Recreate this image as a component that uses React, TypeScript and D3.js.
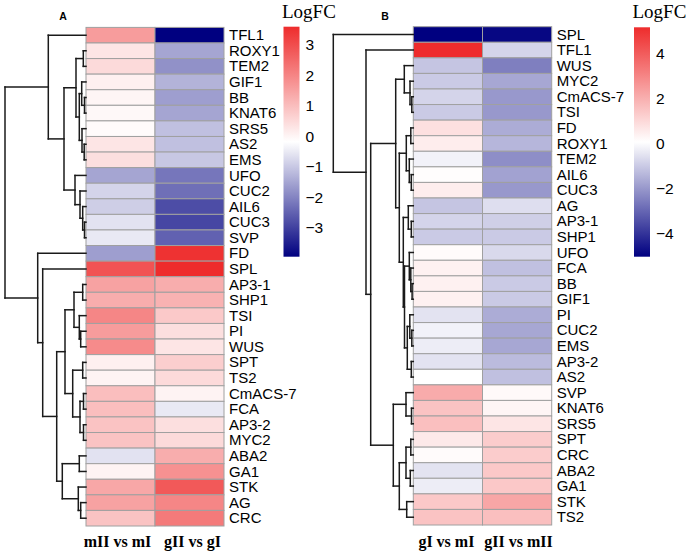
import React from "react";
import * as d3 from "d3";

type TreeNode = string | [number, TreeNode, TreeNode];

// ---------- Panel A data ----------
const rowsA = ["TFL1","ROXY1","TEM2","GIF1","BB","KNAT6","SRS5","AS2","EMS","UFO","CUC2","AIL6","CUC3","SVP","FD","SPL","AP3-1","SHP1","TSI","PI","WUS","SPT","TS2","CmACS-7","FCA","AP3-2","MYC2","ABA2","GA1","STK","AG","CRC"];
const colsA = ["mII vs mI", "gII vs gI"];
const mIIvsmI = [1.6,0.3,0.5,0.1,0.0,-0.05,-0.1,0.3,0.4,-1.5,-0.8,-0.9,-0.6,-0.5,-1.6,2.9,1.5,1.3,2.0,1.6,1.9,0.1,0.05,1.0,1.0,0.9,0.9,-0.6,0.05,1.4,1.5,0.9];
const gIIvsgI = [-3.94,-1.5,-1.8,-1.3,-1.6,-1.5,-1.1,-1.1,-1.0,-2.2,-2.3,-2.8,-2.9,-2.5,3.5,3.6,1.3,1.2,0.8,0.4,0.3,0.7,0.5,0.05,-0.5,0.4,0.5,1.3,1.8,2.8,2.0,2.2];
const ticksA = [-3,-2,-1,0,1,2,3];
const dendroA: TreeNode = [81,
  [37.7, "TFL1",
    [22,
      [10, [2.7,"ROXY1","TEM2"], [6.7, [4.3,"GIF1",[1.5,"BB","KNAT6"]], [4.0,"SRS5",[1.8,"AS2","EMS"]]]],
      [11, "UFO", [6, "CUC2", [3.3, "AIL6", [1.5, "CUC3","SVP"]]]]
    ]
  ],
  [48.3, "FD",
    [43.3, "SPL",
      [29.3,
        [21,
          [12, [3.3,"AP3-1","SHP1"], [6.7, "TSI", [5.3,"PI","WUS"]]],
          [13.3, [3.3,"SPT","TS2"], [6, [2.5,"CmACS-7","FCA"], [2.5,"AP3-2","MYC2"]]]
        ],
        [23.7, [6.7,"ABA2","GA1"], [7.7,"STK",[5.3,"AG","CRC"]]]
      ]
    ]
  ]
];

// ---------- Panel B data ----------
const rowsB = ["SPL","TFL1","WUS","MYC2","CmACS-7","TSI","FD","ROXY1","TEM2","AIL6","CUC3","AG","AP3-1","SHP1","UFO","FCA","BB","GIF1","PI","CUC2","EMS","AP3-2","AS2","SVP","KNAT6","SRS5","SPT","CRC","ABA2","GA1","STK","TS2"];
const colsB = ["gI vs mI", "gII vs mII"];
const gIvsmI = [-5.04,5.16,-1.1,-1.0,-0.8,-1.0,0.8,0.5,-0.2,0.1,0.5,-1.1,-0.8,-1.0,0.15,0.4,0.4,0.4,-0.5,-0.2,-0.3,-0.5,0.05,2.1,1.5,1.6,0.6,0.15,-0.5,-0.3,1.4,1.5];
const gIIvsmII = [-4.9,-0.8,-2.5,-1.7,-2.0,-2.0,-1.6,-1.4,-2.2,-1.8,-2.0,-0.6,-0.9,-1.0,-0.7,-1.2,-1.0,-1.0,-1.6,-1.7,-1.7,-1.3,-1.2,0.2,0.3,0.7,1.3,1.3,1.4,1.4,2.2,1.6];
const ticksB = [-4,-2,0,2,4];
const dendroB: TreeNode = [80, "SPL",
  [47.3, "TFL1",
    [42.6,
      [17.6,
        [9, "WUS", [3.3, "MYC2", [1.5, "CmACS-7", "TSI"]]],
        [14,
          [7, [2.5, "FD", "ROXY1"], [4, "TEM2", [2, "AIL6", "CUC3"]]],
          [10, [5, "AG", [2, "AP3-1", "SHP1"]],
               [8.8, [4, "UFO", [2.5, "FCA", [1.2, "BB", "GIF1"]]],
                     [6, [3.5, "PI", [1.5, "CUC2", "EMS"]], [2, "AP3-2", "AS2"]]]]
        ]
      ],
      [20,
        [7.3, "SVP", [1.8, "KNAT6", "SRS5"]],
        [14, [7.3, [2.5, "SPT", "CRC"], [3, "ABA2", "GA1"]], [6.6, "STK", "TS2"]]
      ]
    ]
  ]
];

const NAVY = "#000080";
const RED = "#EE2C2C";
const SANS = "Liberation Sans, Arial, sans-serif";
const SERIF = "Liberation Serif, Times New Roman, serif";

interface PanelProps {
  id: string;
  letter: string;
  rows: string[];
  cols: string[];
  series: number[][];
  tree: TreeNode;
  ticks: number[];
  hmLeft: number;
  hmRight: number;
  hmTop: number;
  hmBottom: number;
  dendLeft: number;
  letterX: number;
  legX: number;
  legTop: number;
  legBottom: number;
  colShift: number;
}

function Panel(p: PanelProps) {
  const all = p.series.flat();
  const [mn, mx] = d3.extent(all) as [number, number];
  const color = d3.scaleLinear<string>().domain([mn, (mn + mx) / 2, mx]).range([NAVY, "#FFFFFF", RED]).interpolate(d3.interpolateRgb);
  const y = d3.scaleBand<string>().domain(p.rows).range([p.hmTop, p.hmBottom]).padding(0);
  const x = d3.scaleBand<string>().domain(p.cols).range([p.hmLeft, p.hmRight]).padding(0);
  const root = d3.hierarchy<TreeNode>(p.tree, (d) => (typeof d === "string" ? null : [d[1], d[2]]));
  const hMax = typeof p.tree === "string" ? 1 : p.tree[0];
  const hx = d3.scaleLinear().domain([0, hMax]).range([p.hmLeft, p.dendLeft]);
  const pos = new Map<any, { y: number; h: number }>();
  root.eachAfter((n) => {
    if (!n.children) {
      pos.set(n, { y: (y(n.data as string) as number) + y.bandwidth() / 2, h: 0 });
    } else {
      pos.set(n, { y: d3.mean(n.children, (c) => pos.get(c)!.y) as number, h: (n.data as any)[0] });
    }
  });
  const segs: [number, number, number, number][] = [];
  root.each((n) => {
    if (!n.children) return;
    const P = pos.get(n)!;
    const xs = hx(P.h);
    const c0 = pos.get(n.children[0])!;
    const c1 = pos.get(n.children[1])!;
    segs.push([xs, c0.y, xs, c1.y]);
    n.children.forEach((c) => {
      const C = pos.get(c)!;
      segs.push([xs, C.y, hx(C.h), C.y]);
    });
  });
  const ly = d3.scaleLinear().domain([mn, mx]).range([p.legBottom, p.legTop]);
  const stops = d3.range(0, 1.0001, 0.05);
  const fmt = (v: number) => (v < 0 ? "\u2212" + Math.abs(v) : String(v));
  return (
    <g>
      <defs>
        <linearGradient id={p.id + "grad"} x1="0" y1="1" x2="0" y2="0">
          {stops.map((t, i) => (
            <stop key={i} offset={t} stopColor={color(mn + t * (mx - mn))} />
          ))}
        </linearGradient>
      </defs>
      <text x={p.letterX} y={19.5} fontFamily={SANS} fontWeight="bold" fontSize={10.5} textAnchor="middle">{p.letter}</text>
      {p.rows.map((r, i) =>
        p.cols.map((c, j) => (
          <rect key={r + c} x={x(c)} y={y(r)} width={x.bandwidth()} height={y.bandwidth()} fill={color(p.series[j][i])} stroke="#A0A0A0" strokeWidth={1} />
        ))
      )}
      {p.rows.map((r) => (
        <text key={r} x={p.hmRight + 5} y={(y(r) as number) + y.bandwidth() / 2} dy="0.34em" fontFamily={SANS} fontSize={15} fill="#000">{r}</text>
      ))}
      {p.cols.map((c, j) => (
        <text key={c} x={(x(c) as number) + x.bandwidth() / 2 + (j === 0 ? -p.colShift : p.colShift)} y={547} textAnchor="middle" fontFamily={SERIF} fontWeight="bold" fontSize={16}>{c}</text>
      ))}
      {segs.map((s, i) => (
        <line key={i} x1={s[0]} y1={s[1]} x2={s[2]} y2={s[3]} stroke="#1a1a1a" strokeWidth={1.5} strokeLinecap="square" />
      ))}
      <text x={p.legX - 1.5} y={18} fontFamily={SERIF} fontSize={19}>LogFC</text>
      <rect x={p.legX} y={p.legTop} width={16} height={p.legBottom - p.legTop} fill={`url(#${p.id}grad)`} />
      {p.ticks.map((t) => (
        <text key={t} x={p.legX + 22} y={ly(t)} dy="0.35em" fontFamily={SANS} fontSize={15.5}>{fmt(t)}</text>
      ))}
    </g>
  );
}

export default function App() {
  return (
    <svg width={689} height={554} style={{ position: "absolute", left: 0, top: 0, background: "#fff" }}>
      <rect x={0} y={0} width={689} height={554} fill="#fff" />
      <Panel id="A" letter="A" rows={rowsA} cols={colsA} series={[mIIvsmI, gIIvsgI]} tree={dendroA} ticks={ticksA}
        hmLeft={86} hmRight={224} hmTop={27.4} hmBottom={526} dendLeft={5} letterX={63}
        legX={283.5} legTop={26.7} legBottom={256.7} colShift={3} />
      <Panel id="B" letter="B" rows={rowsB} cols={colsB} series={[gIvsmI, gIIvsmII]} tree={dendroB} ticks={ticksB}
        hmLeft={413.3} hmRight={551.7} hmTop={26.7} hmBottom={525} dendLeft={333.3} letterX={385}
        legX={634} legTop={27.3} legBottom={256.7} colShift={1.5} />
    </svg>
  );
}
